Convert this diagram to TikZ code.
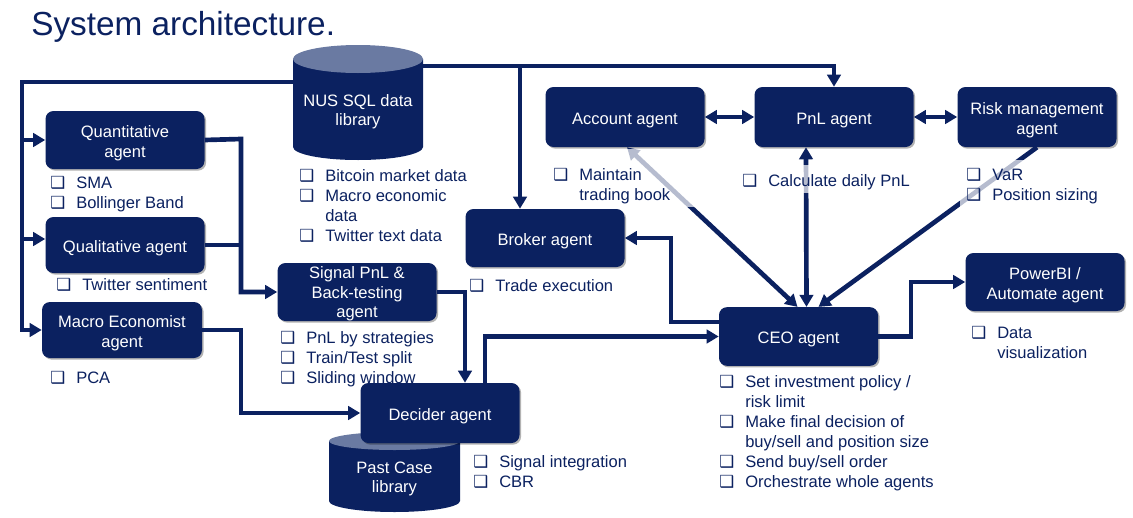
\documentclass[tikz,border=0pt]{standalone}
\usepackage{fontspec}
\setmainfont{Liberation Sans}
\newfontfamily\dejavu{DejaVu Sans}
\usetikzlibrary{arrows.meta,shadows,calc}
\definecolor{navy}{HTML}{0B2160}
\definecolor{cyltop}{HTML}{6A7AA2}
\newcommand{\bl}{\makebox[19.5pt][l]{{\dejavu\fontsize{12.5}{12.5}\selectfont ❑}}}
\newcommand{\ind}{\hspace*{19.5pt}}
\newcommand{\fl}{\rule{0pt}{13.7pt}}
\newcommand{\lst}[1]{\begin{tabular}[t]{@{}l@{}}#1\end{tabular}}
\begin{document}
\begin{tikzpicture}[x=0.75pt,y=-0.75pt,
  box/.style={fill=navy, rounded corners=6pt, text=white, align=center,
    font=\fontsize{12.4}{15}\selectfont, minimum width=119.25pt, minimum height=43.5pt,
    inner xsep=2pt, inner ysep=0pt,
    drop shadow={shadow xshift=1.2pt,shadow yshift=-1.2pt,opacity=0.3,fill=black}},
  cyltext/.style={text=white, align=center, font=\fontsize{12.4}{14.5}\selectfont, inner sep=0pt},
  lstnode/.style={anchor=base west, inner sep=0pt, text=navy, font=\fontsize{12.4}{15}\selectfont},
  conn/.style={draw=navy, line width=3.5pt},
  arr/.style={conn, -{Triangle[length=9pt,width=10pt]}},
  darr/.style={conn, {Triangle[length=9pt,width=10pt]}-{Triangle[length=9pt,width=10pt]}},
  veil/.style={fill=white, opacity=0.7},
]
\useasboundingbox (0,0) rectangle (1133,518);
\fill[white] (0,0) rectangle (1133,518);

% title
\node[anchor=base west, inner sep=0pt, text=navy, font=\fontsize{25}{30}\selectfont] (title) at (31,35) {System architecture.};

% cylinders
\fill[navy] (293,59) -- (293,147) arc[start angle=180,end angle=0,x radius=65,y radius=13] -- (423,59) -- cycle;
\fill[cyltop] (358,59) ellipse[x radius=65,y radius=14];
\node[cyltext] (nus) at (358,112) {NUS SQL data\\library};

\fill[navy] (329,441) -- (329,501) arc[start angle=180,end angle=0,x radius=65.5,y radius=11] -- (460,441) -- cycle;
\fill[cyltop] (394.5,441) ellipse[x radius=65.5,y radius=9];
\node[cyltext] (past) at (394.5,479) {Past Case\\library};

% lists (under boxes)
\node[lstnode] (lbit) at (299,181) {\lst{\bl Bitcoin market data\\ \bl Macro economic\\ \ind data\\ \bl Twitter text data}};
\node[lstnode] (lsma) at (50,188) {\lst{\bl SMA\\ \bl Bollinger Band}};
\node[lstnode] (ltw) at (56,290) {\lst{\bl Twitter sentiment}};
\node[lstnode] (lpca) at (50,383) {\lst{\bl PCA}};
\node[lstnode] (lsig) at (280,343) {\lst{\bl PnL by strategies\\ \bl Train/Test split\\ \bl Sliding window}};
\node[lstnode] (ldec) at (473,467) {\lst{\bl Signal integration\\ \bl CBR}};
\node[lstnode] (ltrade) at (469,291) {\lst{\bl Trade execution}};
\node[lstnode] (ldata) at (971,338) {\lst{\bl Data\\ \ind visualization}};
\node[lstnode] (lceo) at (719,387) {\lst{\bl Set investment policy /\\ \ind risk limit\\ \bl Make final decision of\\ \ind buy/sell and position size\\ \bl Send buy/sell order\\ \bl Orchestrate whole agents}};

% boxes
\node[box] (quant) at (125,140) {\fl Quantitative\\agent};
\node[box, minimum height=42pt] (qual) at (125,245) {\fl Qualitative agent};
\node[box, minimum width=120pt, minimum height=42pt] (macro) at (122,330) {\fl Macro Economist\\agent};
\node[box, font=\fontsize{12.4}{14.6}\selectfont] (signal) at (357,292) {\rule{0pt}{11.6pt}Signal PnL \&\\Back-testing\\agent};
\node[box, minimum height=45pt] (decider) at (440,413) {\fl Decider agent};
\node[box] (broker) at (545,238) {\fl Broker agent};
\node[box, minimum height=45pt] (account) at (625,117) {\fl Account agent};
\node[box, minimum height=45pt] (pnl) at (834,117) {\fl PnL agent};
\node[box, minimum height=45pt] (risk) at (1037,117) {\fl Risk management\\agent};
\node[box] (powerbi) at (1045,282) {\fl PowerBI /\\Automate agent};
\node[box, minimum height=44pt] (ceo) at (798.5,336.5) {\fl CEO agent};

% connector joints
\coordinate (nusL) at (293,82);
\coordinate (nusR) at (423,66);
\coordinate (lv) at (22,82);
\coordinate (tb) at (520,66);
\coordinate (jq) at (241,139);
\coordinate (jd) at (465,292);
\coordinate (jc) at (485,337);
\coordinate (jb) at (671,322);
\coordinate (jp) at (911,337);

% connectors
\draw[arr] (nusL) -- (lv) |- (macro.west);
\draw[arr] (lv |- quant.west) -- (quant.west);
\draw[arr] ($(lv |- qual.west)+(0,-6)$) -- ($(qual.west)+(0,-6)$);
\draw[arr] (nusR) -| (pnl.north);
\draw[arr] (tb) -- (tb |- broker.north);
\draw[arr] (quant.east) -- (jq) |- (signal.west);
\draw[conn] (qual.east) -- (qual.east -| jq);
\draw[arr] (macro.east) -- (macro.east -| jq) |- (decider.west);
\draw[arr] (signal.east) -- (jd) -- (jd |- decider.north);
\draw[arr] (jc |- decider.north) |- (ceo.west);
\draw[arr] (ceo.west |- jb) -- (jb) |- (broker.east);
\draw[arr] (ceo.east) -| (jp |- powerbi.west) -- (powerbi.west);
\draw[darr] (account.east) -- (pnl.west);
\draw[darr] (pnl.east) -- (risk.west);
\draw[darr] ($(account.south)+(2,0)$) -- ($(ceo.north)+(-1,0)$);
\draw[darr] ($(pnl.south)+(-28,0)$) -- ($(ceo.north)+(8,0)$);
\draw[arr] (risk.south) -- ($(ceo.north)+(20,0)$);

% veils over connectors under text
\fill[veil] (550,149) rectangle (705,207);
\fill[veil] (740,165) rectangle (915,193);
\fill[veil] (960,160) rectangle (1110,207);

\node[lstnode] (lacc) at (553,180) {\lst{\bl Maintain\\ \ind trading book}};
\node[lstnode] (lpnl) at (742,186) {\lst{\bl Calculate daily PnL}};
\node[lstnode] (lrisk) at (966,180) {\lst{\bl VaR\\ \bl Position sizing}};
\end{tikzpicture}
\end{document}
